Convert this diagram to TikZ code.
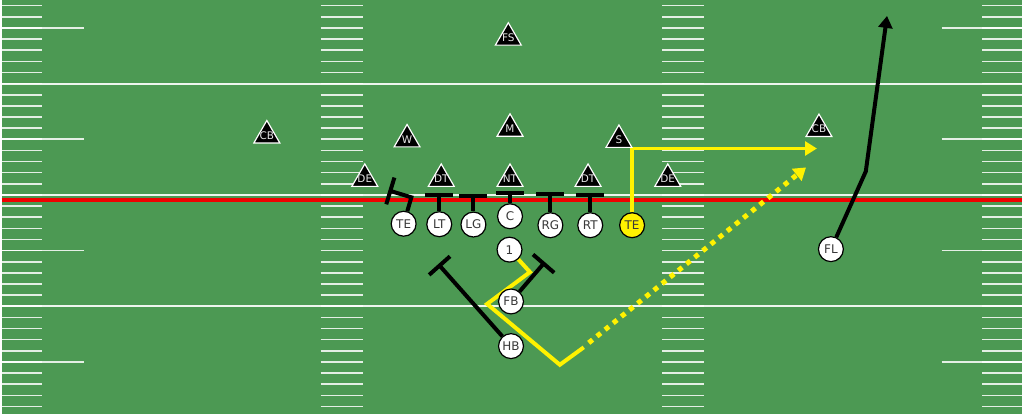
\documentclass[tikz,border=0pt]{standalone}
\usepackage{fontspec}
\setsansfont{DejaVu Sans}
\usetikzlibrary{arrows.meta}
\usetikzlibrary{shapes.geometric}
\usetikzlibrary{backgrounds}

\definecolor{turf}{RGB}{76,153,83}
\definecolor{route}{RGB}{255,242,0}
\definecolor{scrimmage}{RGB}{240,0,0}

\begin{document}
\begin{tikzpicture}[x = 1pt, y = -1pt,
	offense/.style = {circle, draw = black, fill = white, line width = 1.2pt, minimum size = 25pt, inner sep = 0pt, text = black!78, font = \sffamily\fontsize{12}{12}\selectfont},
	defense/.style = {regular polygon, regular polygon sides = 3, draw = white, fill = black, line width = 1.2pt, minimum size = 30pt, inner sep = -3pt, text = white!90!black, font = \sffamily\fontsize{10.5}{10.5}\selectfont},
	block/.style = {line width = 4pt, -{Bar[width = 28pt]}},
	run/.style = {line width = 4pt, -{Triangle[length = 12pt, width = 14pt]}},
	hash/.style = {white, line width = 1.6pt, opacity = 0.85}]
				% Nodes
				\node[defense] (fs) at (508.3, 37.8) {FS};
				\node[defense] (cbl) at (266, 135.9) {CB};
				\node[defense] (w) at (406.7, 139.9) {W};
				\node[defense] (m) at (510, 129.2) {M};
				\node[defense] (s) at (619.3, 140.4) {S};
				\node[defense] (cbr) at (820, 129.5) {CB};
				\node[defense] (del) at (364.3, 179.5) {DE};
				\node[defense] (dtl) at (441, 179.5) {DT};
				\node[defense] (nt) at (510, 179.5) {NT};
				\node[defense] (dtr) at (588.3, 179.5) {DT};
				\node[defense] (der) at (668.3, 179.5) {DE};
				
				\node[offense] (tel) at (403.3, 224.5) {TE};
				\node[offense] (lt) at (439, 225) {LT};
				\node[offense] (lg) at (473.3, 225.3) {LG};
				\node[offense] (c) at (510, 217) {C};
				\node[offense] (rg) at (550.5, 226) {RG};
				\node[offense] (rt) at (590.5, 226) {RT};
				\node[offense, fill = route] (ter) at (632.5, 226) {TE};
				\node[offense] (qb) at (509.5, 250.5) {1};
				\node[offense] (fb) at (511, 302.5) {FB};
				\node[offense] (hb) at (511, 347.3) {HB};
				\node[offense] (fl) at (832, 250) {FL};
				
				% Route points
				\coordinate (telbend) at (411, 198);
				\coordinate (telhit) at (388, 191);
				\coordinate (lthit) at (439, 194);
				\coordinate (lghit) at (473.3, 195);
				\coordinate (chit) at (510, 191.7);
				\coordinate (rghit) at (550.5, 192.7);
				\coordinate (rthit) at (590.5, 193.3);
				\coordinate (hbhit) at (438, 265);
				\coordinate (fbhit) at (545, 263);
				\coordinate (terbreak) at (632.5, 149);
				\coordinate (terend) at (818, 149);
				\coordinate (flbend) at (867, 172);
				\coordinate (flend) at (888.3, 16);
				\coordinate (qbstep) at (530, 273);
				\coordinate (qbback) at (487, 305);
				\coordinate (qbset) at (560, 366);
				\coordinate (qbthrow) at (584, 348.5);
				\coordinate (ballfrom) at (589, 344);
				\coordinate (ballto) at (807, 168);
				
				\begin{pgfonlayer}{background}
				% Field
				\fill[turf] (0, 0) rectangle (1024, 415);
				\foreach \k in {0, ..., 36} {
					\pgfmathsetmacro\yy{5.7 + 11.17*\k}
					\draw[hash] (0, \yy) -- (40, \yy) (320, \yy) -- (362, \yy) (663, \yy) -- (705, \yy) (984, \yy) -- (1024, \yy);
				}
				\foreach \yy in {28, 139.7, 251.5, 363.1}
					\draw[hash] (0, \yy) -- (83, \yy) (943, \yy) -- (1024, \yy);
				\foreach \yy in {84, 195.4, 307.3}
					\draw[white, line width = 2.2pt, opacity = 0.9] (0, \yy) -- (1024, \yy);
				\draw[scrimmage, line width = 3.5pt] (0, 200.5) -- (1024, 200.5);
				
				% Edges
				\draw[block] (tel) -- (telbend) -- (telhit);
				\draw[block] (lt) -- (lthit);
				\draw[block] (lg) -- (lghit);
				\draw[block] (c) -- (chit);
				\draw[block] (rg) -- (rghit);
				\draw[block] (rt) -- (rthit);
				\draw[block] (hb) -- (hbhit);
				\draw[block] (fb) -- (fbhit);
				\draw[run] (fl) -- (flbend) -- (flend);
				\draw[run, route] (ter) -- (terbreak) -- (terend);
				\draw[route, line width = 4pt] (qb) -- (qbstep) -- (qbback) -- (qbset) -- (qbthrow);
				\draw[route, line width = 5pt, dash pattern = on 5pt off 5.5pt, -{Triangle[length = 12pt, width = 15pt]}] (ballfrom) -- (ballto);
				\end{pgfonlayer}
				
				\useasboundingbox (0, 0) rectangle (1024, 415);
			\end{tikzpicture}
\end{document}
